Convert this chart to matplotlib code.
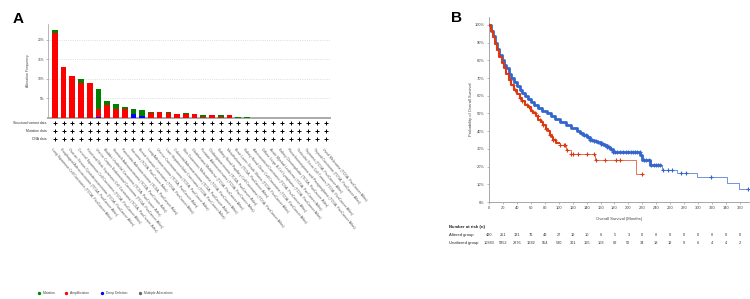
import numpy as np
import matplotlib.pyplot as plt
import matplotlib.transforms as mtransforms
from matplotlib.lines import Line2D

plt.rcParams['font.family'] = ['Liberation Sans', 'DejaVu Sans']

# ---- panel A data: alteration frequency (%) per study
cancer_types = [
    "Lung Squamous Cell Carcinoma", "Esophageal Adenocarcinoma",
    "Ovarian Serous Cystadenocarcinoma", "Cervical Squamous Cell Carcinoma",
    "Head and Neck Squamous Cell Carcinoma", "Uterine Corpus Endometrial Carcinoma",
    "Bladder Urothelial Carcinoma", "Stomach Adenocarcinoma",
    "Pancreatic Adenocarcinoma", "Sarcoma", "Breast Invasive Carcinoma",
    "Lung Adenocarcinoma", "Uterine Carcinosarcoma",
    "Liver Hepatocellular Carcinoma", "Colorectal Adenocarcinoma",
    "Skin Cutaneous Melanoma", "Glioblastoma Multiforme",
    "Prostate Adenocarcinoma", "Cholangiocarcinoma",
    "Kidney Renal Papillary Cell Carcinoma", "Mesothelioma",
    "Brain Lower Grade Glioma", "Kidney Renal Clear Cell Carcinoma",
    "Adrenocortical Carcinoma", "Diffuse Large B-Cell Lymphoma",
    "Acute Myeloid Leukemia", "Kidney Chromophobe",
    "Pheochromocytoma and Paraganglioma", "Testicular Germ Cell Tumors",
    "Thymoma", "Thyroid Carcinoma", "Uveal Melanoma",
]
deep_del = [0, 0, 0, 0, 0, 0.25, 0, 0, 0, 1.0, 0.5, 0, 0, 0, 0, 0,
            0, 0, 0, 0, 0, 0, 0, 0, 0, 0, 0, 0, 0, 0, 0, 0]
amp = [21.7, 13.1, 10.8, 9.0, 8.9, 2.15, 3.25, 2.4, 2.2, 0, 0, 1.4, 1.45, 1.2, 1.1, 0.95,
       1.1, 0.35, 0.75, 0.35, 0.7, 0, 0, 0, 0, 0, 0, 0, 0, 0, 0, 0]
mut = [0.8, 0, 0, 1.0, 0.2, 4.95, 1.1, 1.2, 0.5, 1.2, 1.5, 0.15, 0, 0.25, 0, 0.25,
       0, 0.5, 0, 0.45, 0, 0.35, 0.25, 0, 0, 0, 0, 0, 0, 0, 0, 0]
row_names = ["Structural variant data", "Mutation data", "CNA data"]

# ---- panel B data: Kaplan-Meier curves (months, % surviving)
alt_t = [0, 3, 6, 9, 12, 15, 18, 21, 24, 28, 32, 36, 40, 44, 48, 52, 56, 60, 63, 67, 71,
         75, 78, 82, 85, 88, 90, 92, 96, 102, 111, 117, 152, 211, 220]
alt_s = [100, 96.5, 93, 89.5, 86, 82, 78.5, 75.5, 72.5, 69, 66, 63.5, 61, 59, 57, 55,
         53.5, 51.5, 50, 48.3, 46.6, 45, 43.5, 41.5, 40, 38, 36.5, 35, 33.5, 32, 29.4,
         27, 23.7, 16, 16]
alt_cens = [30, 34, 38, 44, 48, 55, 58, 62, 66, 70, 73, 78, 82, 88, 92, 95, 102, 107, 109,
            112, 117, 120, 128, 140, 150, 154, 166, 182, 188, 220]
unalt_t = [0, 3, 6, 9, 12, 15, 18, 21, 24, 28, 32, 36, 40, 44, 48, 52, 56, 60, 65, 70,
           76, 83, 89, 95, 102, 110, 118, 126, 131, 135, 140, 145, 150, 155, 160, 165,
           169, 173, 178, 205, 217, 219, 231, 248, 269, 298, 341, 359, 373]
unalt_s = [100, 96.5, 93.5, 90, 86.5, 83, 80, 77.5, 75.5, 72.5, 70, 68, 65.5, 63.5, 61.5,
           59.7, 58, 56.5, 54.8, 53, 51.5, 50, 48.5, 47, 45.3, 43.5, 41.7, 40, 39, 38,
           36.5, 35, 34.3, 33.7, 33, 32, 31, 29.8, 28.5, 28, 26.5, 23.5, 21, 18, 16.5,
           14.3, 10.5, 7.2, 7.2]
unalt_cens = [132, 136, 139, 142, 145, 148, 151, 154, 157, 160, 163, 166, 169, 172, 175, 178,
              181, 184, 188, 192, 196, 200, 203, 206, 209, 212, 216, 222, 225, 229, 233, 236,
              239, 242, 245, 250, 257, 263, 276, 283, 318, 372]
risk_times = list(range(0, 361, 20))
risk_altered = [420, 251, 131, 76, 43, 27, 12, 10, 6, 5, 3, 0, 0, 0, 0, 0, 0, 0, 0]
risk_unaltered = [10383, 5852, 2976, 1682, 954, 530, 301, 165, 103, 62, 50, 34, 18, 12, 9, 6, 4, 4, 2]

fig = plt.figure(figsize=(7.5, 2.99), dpi=100)

# ================= Panel A =================
axA = fig.add_axes([48/750, 1-118/299, (330-48)/750, (118-24)/299])
x = np.arange(len(cancer_types))
bottom = np.zeros(len(x))
for vals, col in [(deep_del, '#0000ff'), (amp, '#ff0000'), (mut, '#008000')]:
    axA.bar(x, vals, 0.65, bottom=bottom, color=col, lw=0, zorder=3)
    bottom = bottom + np.array(vals)

axA.set_xlim(-0.78, 31.5)
axA.set_ylim(0, 24.1)
axA.set_yticks([5, 10, 15, 20])
axA.set_yticklabels([f'{v}%' for v in [5, 10, 15, 20]], fontsize=2.4, color='#444444')
axA.set_xticks([])
axA.grid(axis='y', ls=':', color='#d0d0d0', lw=0.6)
axA.tick_params(axis='y', length=1.5, width=0.4, pad=1, color='#888888')
for s in ['top', 'right']:
    axA.spines[s].set_visible(False)
axA.spines['left'].set_color('#999999')
axA.spines['left'].set_linewidth(0.5)
axA.spines['bottom'].set_color('#aaaaaa')
axA.spines['bottom'].set_linewidth(1.4)
axA.text(-0.071, 0.5, 'Alteration Frequency', transform=axA.transAxes, rotation=90,
         ha='center', va='center', fontsize=2.5, color='#444444')

transA = mtransforms.blended_transform_factory(axA.transData, axA.transAxes)
for ry, name in zip([-0.053, -0.138, -0.223], row_names):
    axA.plot(x, [ry] * len(x), '+', color='black', ms=2.2, mew=0.7,
             transform=transA, clip_on=False)
    axA.text(-0.004, ry, name, transform=axA.transAxes, ha='right', va='center',
             fontsize=2.4, color='#333333')
for xi, lab in zip(x, cancer_types):
    axA.text(xi - 0.2, -0.31, lab + ' (TCGA, PanCancer Atlas)', transform=transA,
             rotation=-50, rotation_mode='anchor', ha='left', va='top',
             fontsize=2.5, color='#555555')

# legend at the bottom
leg_items = [(39, '#008000', 'Mutation'), (66, '#ff0000', 'Amplification'),
             (102, '#0000ff', 'Deep Deletion'), (140, '#666666', 'Multiple Alterations')]
ly = 1 - 293/299
for px, col, lab in leg_items:
    fig.add_artist(Line2D([px/750], [ly], marker='o', ms=1.4, color=col, lw=0,
                          transform=fig.transFigure))
    fig.text((px + 4)/750, ly, lab, fontsize=2.4, va='center', ha='left', color='#444444')

fig.text(18/750, 1-19/299, 'A', fontsize=11, fontweight='bold', ha='center', va='center')

# ================= Panel B =================
axB = fig.add_axes([489/750, 1-202/299, (749-489)/750, (202-17)/299])
red = '#dc3912'
blue = '#3366cc'


def step_at(ts, ss, t):
    i = np.searchsorted(ts, t, side='right') - 1
    return np.array(ss)[i]


for ts, ss, cens, col, cut, lw in [(unalt_t, unalt_s, unalt_cens, blue, 245, 2.0),
                                   (alt_t, alt_s, alt_cens, red, 100, 1.5)]:
    ts = np.array(ts)
    ss = np.array(ss)
    axB.step(ts, ss, where='post', color=col, lw=0.7, alpha=0.7, zorder=3)
    m = ts <= cut
    tt = np.append(ts[m], cut)
    st = np.append(ss[m], step_at(ts, ss, cut))
    axB.step(tt, st, where='post', color=col, lw=lw, zorder=4)
    c = np.array(cens)
    axB.plot(c, step_at(ts, ss, c), '+', color=col, ms=2.5, mew=0.8, zorder=5)

axB.set_xlim(0, 373)
axB.set_ylim(0, 104.5)
axB.set_xticks(risk_times)
axB.set_xticklabels([str(t) for t in risk_times], fontsize=2.9, color='#444444')
axB.set_yticks(range(0, 101, 10))
axB.set_yticklabels([f'{v}%' for v in range(0, 101, 10)], fontsize=2.9, color='#444444')
axB.tick_params(length=1.5, width=0.4, pad=1.5, color='#888888')
for s in ['top', 'right']:
    axB.spines[s].set_visible(False)
for s in ['left', 'bottom']:
    axB.spines[s].set_color('#999999')
    axB.spines[s].set_linewidth(0.6)
axB.text(0.5, -0.092, 'Overall Survival (Months)', transform=axB.transAxes,
         ha='center', va='center', fontsize=3.0, color='#444444')
axB.text(-0.069, 0.5, 'Probability of Overall Survival', transform=axB.transAxes,
         rotation=90, ha='center', va='center', fontsize=3.0, color='#444444')

transB = mtransforms.blended_transform_factory(axB.transData, axB.transAxes)
axB.text(-0.154, -0.135, 'Number at risk (n)', transform=axB.transAxes, ha='left',
         va='center', fontsize=3.1, fontweight='bold', color='#222222')
for ry, lab, vals in [(-0.178, 'Altered group', risk_altered),
                      (-0.222, 'Unaltered group', risk_unaltered)]:
    axB.text(-0.154, ry, lab, transform=axB.transAxes, ha='left', va='center',
             fontsize=3.0, color='#222222')
    for t, v in zip(risk_times, vals):
        axB.text(t, ry, str(v), transform=transB, ha='center', va='center',
                 fontsize=2.8, color='#333333')

fig.text(457/750, 1-18/299, 'B', fontsize=11, fontweight='bold', ha='center', va='center')

fig.savefig('out.png', dpi=100)
